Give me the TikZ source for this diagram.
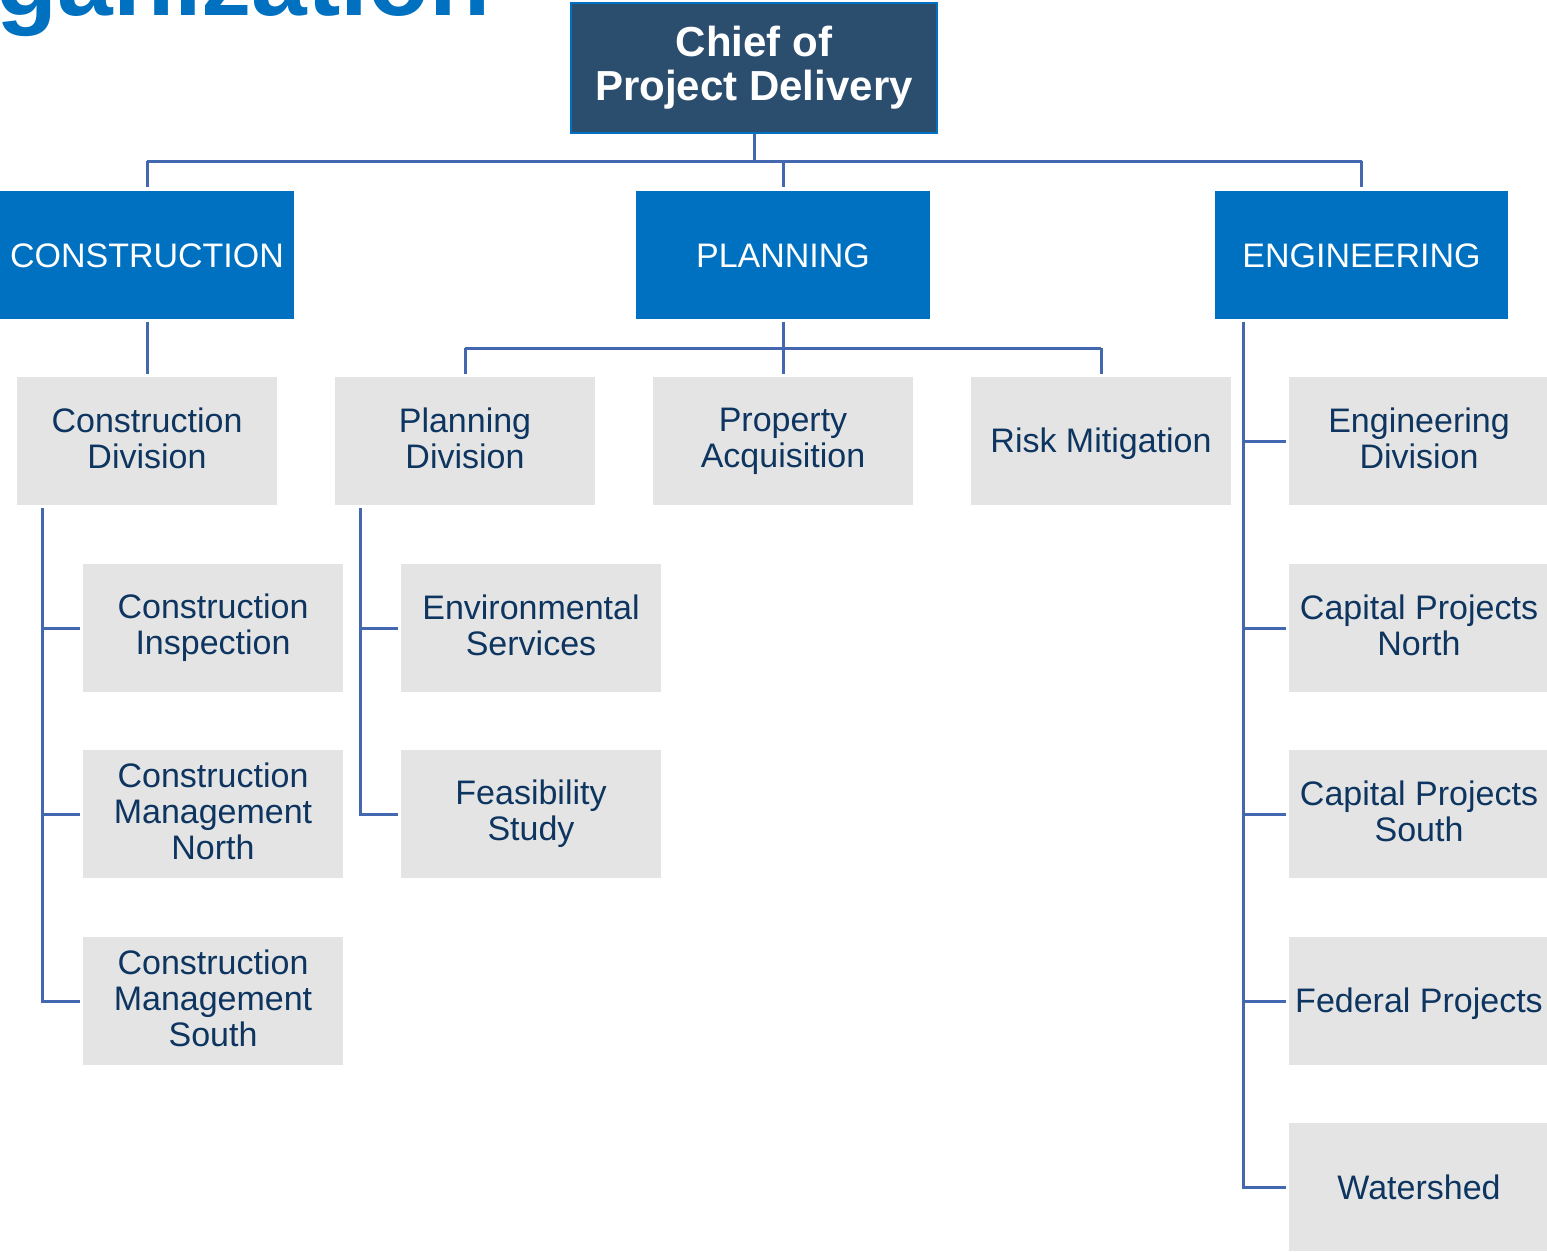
\documentclass[tikz,border=0pt]{standalone}
\usepackage{fontspec}
\setmainfont{Liberation Sans}
\definecolor{hblue}{HTML}{0070C0}
\definecolor{chiefblue}{HTML}{2B4E6F}
\definecolor{boxgray}{HTML}{E4E4E4}
\definecolor{navy}{HTML}{0D3560}
\definecolor{linec}{HTML}{4468B0}
\newcommand{\topstrut}{\rule{0pt}{30pt}}
\newcommand{\botstrut}{\rule[-6pt]{0pt}{6pt}}
\newcommand{\mtopstrut}{\rule{0pt}{33pt}}
\newcommand{\mbotstrut}{\rule[-5pt]{0pt}{5pt}}
\newcommand{\chieftop}{\rule{0pt}{37pt}}
\newcommand{\chiefbot}{\rule[-7pt]{0pt}{7pt}}
\begin{document}
\begin{tikzpicture}[x=1pt,y=-1pt,
  subbox/.style={fill=boxgray, text=navy, minimum width=260, minimum height=128,
    inner sep=0pt, align=center, font=\fontsize{34}{36}\selectfont,
    execute at begin node=\topstrut, execute at end node=\botstrut},
  multi/.style={execute at begin node=\mtopstrut, execute at end node=\mbotstrut},
  headbox/.style={fill=hblue, text=white, minimum width=294, minimum height=128,
    inner sep=0pt, align=center, font=\fontsize{34}{36}\selectfont,
    execute at begin node=\topstrut, execute at end node=\botstrut},
  chiefbox/.style={fill=chiefblue, draw=hblue, line width=2pt, text=white,
    minimum width=366, minimum height=130, inner sep=0pt, align=center,
    font=\bfseries\fontsize{42}{44}\selectfont,
    execute at begin node=\chieftop, execute at end node=\chiefbot},
  conn/.style={draw=linec, line width=3pt}]
\useasboundingbox (0,0) rectangle (1547,1251);
\clip (0,0) rectangle (1547,1251);

\node[anchor=base east, text=hblue, font=\bfseries\fontsize{100}{110}\selectfont, inner sep=0pt] (title) at (491,15) {Organization};

\node[chiefbox] (chief) at (754,68) {Chief of\\Project Delivery};

\node[headbox] (con) at (147,255) {CONSTRUCTION};
\node[headbox] (pla) at (783,255) {PLANNING};
\node[headbox, minimum width=293] (eng) at (1361.5,255) {ENGINEERING};

\node[subbox, multi] (condiv) at (147,441) {Construction\\Division};
\node[subbox, multi] (pladiv) at (465,441) {Planning\\Division};
\node[subbox, multi] (prop) at (783,441) {Property\\Acquisition};
\node[subbox] (risk) at (1101,441) {Risk Mitigation};
\node[subbox, multi] (engdiv) at (1419,441) {Engineering\\Division};

\node[subbox, multi] (ci) at (213,628) {Construction\\Inspection};
\node[subbox, multi] (cmn) at (213,814) {Construction\\Management\\North};
\node[subbox, multi] (cms) at (213,1001) {Construction\\Management\\South};
\node[subbox, multi] (es) at (531,628) {Environmental\\Services};
\node[subbox, multi] (fs) at (531,814) {Feasibility\\Study};
\node[subbox, multi] (cpn) at (1419,628) {Capital Projects\\North};
\node[subbox, multi] (cps) at (1419,814) {Capital Projects\\South};
\node[subbox] (fp) at (1419,1001) {Federal Projects};
\node[subbox] (ws) at (1419,1187) {Watershed};

% top level
\coordinate (b0) at (754,161);
\draw[conn] (chief.south) -- (b0);
\draw[conn] (b0 -| con) -- (b0 -| eng);
\foreach \n in {con,pla,eng} \draw[conn, shorten >=4pt] (b0 -| \n) -- (\n.north);

% construction
\draw[conn, shorten <=3pt, shorten >=3pt] (con.south) -- (condiv.north);

% planning
\coordinate (b1) at (783,348);
\draw[conn, shorten <=3pt] (pla.south) -- (b1);
\draw[conn] (b1 -| pladiv) -- (b1 -| risk);
\foreach \n in {pladiv,prop,risk} \draw[conn, shorten >=3pt] (b1 -| \n) -- (\n.north);

% construction division bus
\coordinate (c1) at (42,508);
\draw[conn, shorten >=3pt] (c1) |- (cms.west);
\foreach \n in {ci,cmn} \draw[conn, shorten >=3pt] (c1 |- \n.west) -- (\n.west);

% planning division bus
\coordinate (p1) at (360,508);
\draw[conn, shorten >=3pt] (p1) |- (fs.west);
\draw[conn, shorten >=3pt] (p1 |- es.west) -- (es.west);

% engineering bus
\coordinate (e1) at (1243,322);
\draw[conn, shorten >=3pt] (e1) |- (ws.west);
\foreach \n in {engdiv,cpn,cps,fp} \draw[conn, shorten >=3pt] (e1 |- \n.west) -- (\n.west);
\end{tikzpicture}
\end{document}
